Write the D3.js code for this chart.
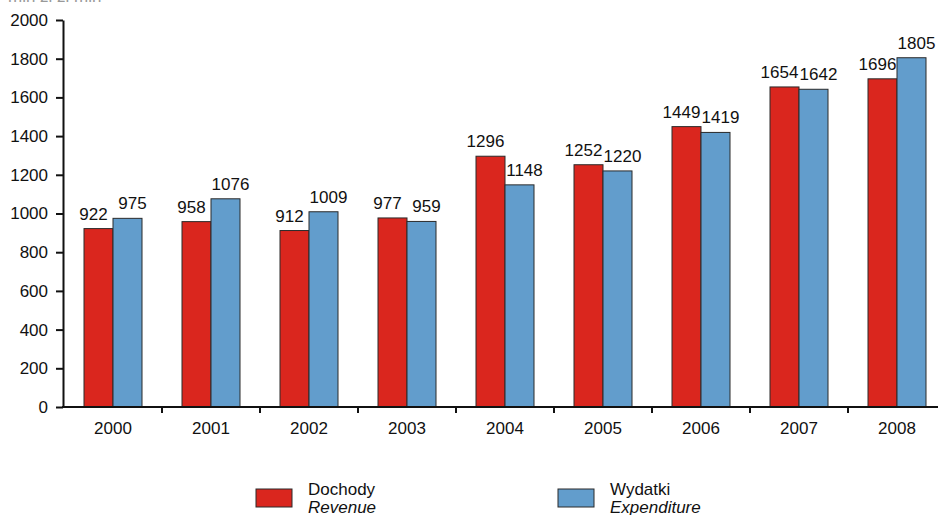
<!DOCTYPE html>
<html>
<head>
<meta charset="utf-8">
<script src="https://cdn.jsdelivr.net/npm/d3@7"></script>
<style>
  html, body { margin: 0; padding: 0; background: #fff; }
  svg { display: block; font-family: "Liberation Sans", Arial, sans-serif; }
</style>
</head>
<body>
<svg id="chart" width="938" height="515"></svg>
<script>
const years = ["2000","2001","2002","2003","2004","2005","2006","2007","2008"];
const revenue = [922, 958, 912, 977, 1296, 1252, 1449, 1654, 1696];
const expenditure = [975, 1076, 1009, 959, 1148, 1220, 1419, 1642, 1805];
const yTicks = [0, 200, 400, 600, 800, 1000, 1200, 1400, 1600, 1800, 2000];
const seriesNames = ["Dochody", "Wydatki"];
const seriesNamesEn = ["Revenue", "Expenditure"];
const unitLabel = "mln zł   zł mln";

const colors = ["#da261e", "#629dcc"];
const labelShift = [-5, 5];

const svg = d3.select("#chart");
const x0 = 64, bandW = 98;
const x = d3.scaleBand().domain(years).range([x0, x0 + bandW * years.length]).paddingInner(0).paddingOuter(0);
const y = d3.scaleLinear().domain([0, 2000]).range([407, 20]);
const barW = 29;

// unit label (cut off at top)
svg.append("text").attr("x", 8).attr("y", 2).attr("font-size", 17).attr("fill", "#999").text(unitLabel);

// bars
const series = [revenue, expenditure];
series.forEach((vals, si) => {
  const g = svg.append("g");
  g.selectAll("rect").data(years).join("rect")
    .attr("x", d => x(d) + x.bandwidth() / 2 - barW + si * barW)
    .attr("y", (d, i) => y(vals[i]))
    .attr("width", barW)
    .attr("height", (d, i) => y(0) - y(vals[i]))
    .attr("fill", colors[si])
    .attr("stroke", "#2a2a2a")
    .attr("stroke-width", 1);
  g.selectAll("text").data(years).join("text")
    .attr("x", d => x(d) + x.bandwidth() / 2 - barW / 2 + si * barW + labelShift[si])
    .attr("y", (d, i) => y(vals[i]) - 9)
    .attr("text-anchor", "middle")
    .attr("font-size", 17)
    .attr("fill", "#111")
    .text((d, i) => vals[i]);
});

// y axis
const yAxis = d3.axisLeft(y).tickValues(yTicks).tickSize(7).tickSizeOuter(0).tickPadding(8).tickFormat(d3.format("d"));
const gy = svg.append("g").attr("transform", `translate(${x0 - 1},0)`).call(yAxis);
gy.select(".domain").attr("stroke", "#111").attr("stroke-width", 2);
gy.selectAll(".tick line").attr("stroke", "#111").attr("stroke-width", 2);
gy.selectAll(".tick text").attr("font-size", 17).attr("fill", "#111").attr("font-family", "Liberation Sans, Arial, sans-serif");

// x axis
const gx = svg.append("g").attr("transform", `translate(0,${y(0)})`);
gx.append("line").attr("x1", x0 - 2).attr("x2", 938).attr("y1", 0).attr("y2", 0)
  .attr("stroke", "#111").attr("stroke-width", 2);
gx.selectAll("line.bt").data(years.slice(1)).join("line").attr("class", "bt")
  .attr("x1", d => x(d)).attr("x2", d => x(d)).attr("y1", 0).attr("y2", 6)
  .attr("stroke", "#111").attr("stroke-width", 2);
const xAxis = d3.axisBottom(x).tickSize(0).tickPadding(15).tickSizeOuter(0);
const gxl = svg.append("g").attr("transform", `translate(0,${y(0)})`).call(xAxis);
gxl.select(".domain").remove();
gxl.selectAll(".tick text").attr("font-size", 17).attr("fill", "#111").attr("font-family", "Liberation Sans, Arial, sans-serif");

// legend
const legendX = [256, 558];
seriesNames.forEach((name, i) => {
  const g = svg.append("g").attr("transform", `translate(${legendX[i]},489)`);
  g.append("rect").attr("x", 0).attr("y", 0).attr("width", 36).attr("height", 18)
    .attr("fill", colors[i]).attr("stroke", "#2a2a2a").attr("stroke-width", 1);
  g.append("text").attr("x", 52).attr("y", 6).attr("font-size", 17).attr("fill", "#111").text(name);
  g.append("text").attr("x", 52).attr("y", 24).attr("font-size", 17).attr("font-style", "italic").attr("fill", "#111").text(seriesNamesEn[i]);
});
</script>
</body>
</html>
